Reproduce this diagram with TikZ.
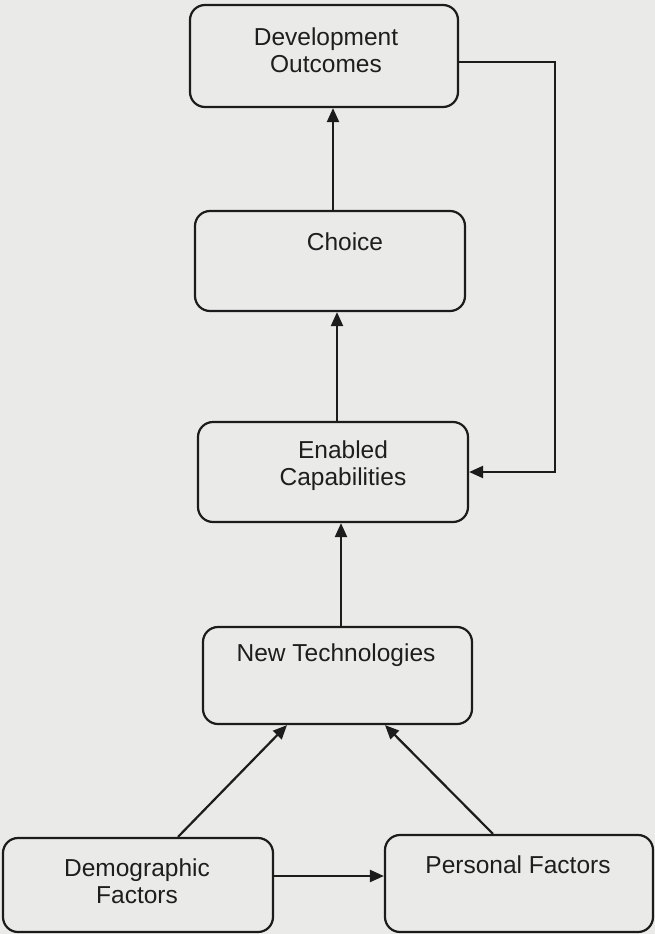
\documentclass[tikz,border=0pt]{standalone}
\usepackage{fontspec}
\setmainfont{Liberation Sans}
\usetikzlibrary{arrows.meta}

\definecolor{paper}{RGB}{234,234,233}
\definecolor{ink}{RGB}{28,28,28}
\definecolor{txt}{RGB}{30,30,30}

\tikzset{
  box/.style={draw=ink, line width=2.2pt, rounded corners=15pt, fill=paper,
              inner sep=0pt, anchor=center},
  lbl/.style={text=txt, align=center, inner sep=0pt,
              font=\fontsize{24.5}{27}\selectfont},
  arr/.style={draw=ink, line width=2.2pt,
              -{Triangle[length=14pt,width=12pt]}}
}

\begin{document}
\begin{tikzpicture}[x=1pt,y=-1pt]
  % page
  \fill[paper] (0,0) rectangle (655,934);
  \useasboundingbox (0,0) rectangle (655,934);

  % boxes
  \node[box, minimum width=268pt, minimum height=102pt] (dev)      at (324,56)    {};
  \node[box, minimum width=270pt, minimum height=100pt] (choice)   at (330,261)   {};
  \node[box, minimum width=270pt, minimum height=100pt] (enabled)  at (333,472)   {};
  \node[box, minimum width=269pt, minimum height=97pt]  (newtech)  at (337.5,675.5) {};
  \node[box, minimum width=270pt, minimum height=94pt]  (demo)     at (138,885)   {};
  \node[box, minimum width=268pt, minimum height=97pt]  (personal) at (519,883.5) {};

  % box texts
  \node[lbl] (devtxt)      at (326,50)  {Development\\Outcomes};
  \node[lbl] (choicetxt)   at (345,242) {Choice};
  \node[lbl] (enabledtxt)  at (343,466) {Enabled\\Capabilities};
  \node[lbl] (newtechtxt)  at (336,655) {New Technologies};
  \node[lbl] (demotxt)     at (137,881) {Demographic\\Factors};
  \node[lbl] (personaltxt) at (518,865) {Personal Factors};

  % connectors
  \draw[arr] ([xshift=40pt]demo.north) -- ([xshift=-50.5pt]newtech.south);
  \draw[arr] ([xshift=-26pt]personal.north) -- ([xshift=47.5pt]newtech.south);
  \draw[arr] ([yshift=9pt]demo.east) -- ([yshift=7.5pt]personal.west);
  \draw[arr] ([xshift=3.5pt]newtech.north) -- ([xshift=8pt]enabled.south);
  \draw[arr] ([xshift=4pt]enabled.north) -- ([xshift=7pt]choice.south);
  \draw[arr] ([xshift=3pt]choice.north) -- ([xshift=9pt]dev.south);
  \coordinate (loop) at (555,62);
  \draw[arr] ([yshift=-6pt]dev.east) -- (loop) |- (enabled.east);
\end{tikzpicture}
\end{document}
